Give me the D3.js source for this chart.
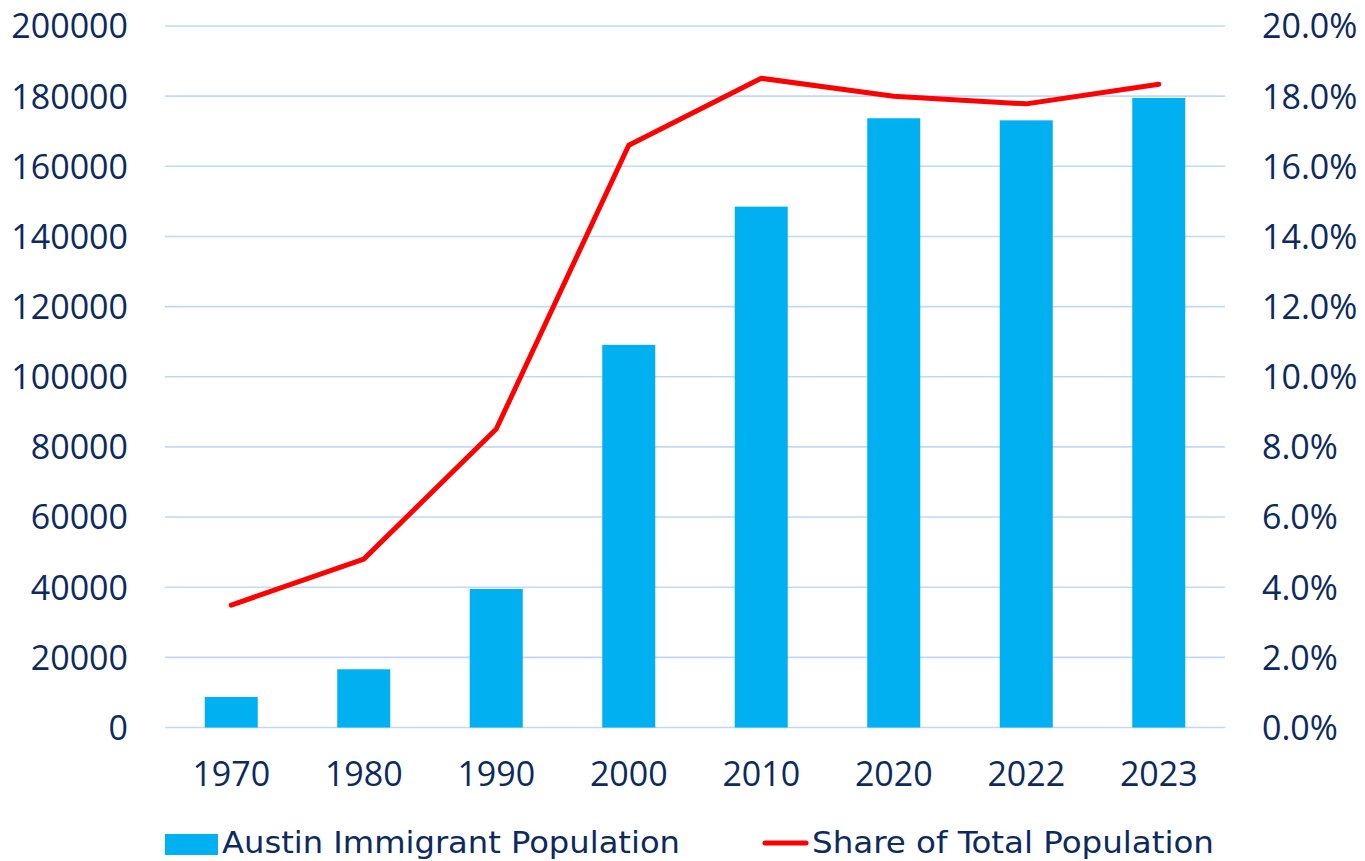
<!DOCTYPE html>
<html><head><meta charset="utf-8">
<script src="https://cdn.jsdelivr.net/npm/d3@7"></script>
<style>html,body{margin:0;padding:0;background:#fff;}</style>
</head><body>
<svg id="chart" width="1365" height="861"></svg>
<script>
const categories = ["1970","1980","1990","2000","2010","2020","2022","2023"];
const immigrantPopulation = [8700, 16600, 39500, 109100, 148500, 173700, 173100, 179500];
const shareOfTotal = [0.0349, 0.048, 0.0851, 0.166, 0.1851, 0.180, 0.1778, 0.1834];
const leftTicks = [0,20000,40000,60000,80000,100000,120000,140000,160000,180000,200000];
const rightTicks = [0,0.02,0.04,0.06,0.08,0.10,0.12,0.14,0.16,0.18,0.20];
const seriesNames = ["Austin Immigrant Population","Share of Total Population"];

const textColor = "#0c2a5e";
const font = "'Open Sans', sans-serif";
const svg = d3.select("#chart");
const m = {left:165, right:1225, top:26, bottom:727.5};

const x = d3.scaleBand().domain(categories).range([m.left, m.right]).paddingInner(0.6).paddingOuter(0.3);
const yL = d3.scaleLinear().domain([0,200000]).range([m.bottom, m.top]);
const yR = d3.scaleLinear().domain([0,0.2]).range([m.bottom, m.top]);

// gridlines
svg.append("g").selectAll("line").data(leftTicks).join("line")
  .attr("x1", m.left).attr("x2", m.right)
  .attr("y1", d=>yL(d)).attr("y2", d=>yL(d))
  .attr("stroke", "#c3d7f7").attr("stroke-width", 1.6);

// left axis
const gL = svg.append("g").attr("transform", `translate(${m.left},0)`)
  .call(d3.axisLeft(yL).tickValues(leftTicks).tickFormat(d3.format("d")).tickSize(0).tickPadding(37));
gL.select(".domain").remove();
gL.selectAll("text").attr("fill", textColor).attr("font-family", font).attr("font-size", 34).attr("dy","0.35em");

// right axis
const gR = svg.append("g").attr("transform", `translate(${m.right},0)`)
  .call(d3.axisRight(yR).tickValues(rightTicks).tickFormat(d3.format(".1%")).tickSize(0).tickPadding(37));
gR.select(".domain").remove();
gR.selectAll("text").attr("fill", textColor).attr("font-family", font).attr("font-size", 34).attr("dy","0.35em");

// x axis
const gX = svg.append("g").attr("transform", `translate(0,${m.bottom})`)
  .call(d3.axisBottom(x).tickSize(0).tickPadding(34));
gX.select(".domain").remove();
gX.selectAll("text").attr("fill", textColor).attr("font-family", font).attr("font-size", 34).attr("dy","0.71em");

// bars
svg.append("g").selectAll("rect").data(categories).join("rect")
  .attr("x", d=>x(d)).attr("width", x.bandwidth())
  .attr("y", (d,i)=>yL(immigrantPopulation[i]))
  .attr("height", (d,i)=>yL(0)-yL(immigrantPopulation[i]))
  .attr("fill", "#00b0f0");

// line
const line = d3.line().x((d,i)=>x(categories[i])+x.bandwidth()/2).y(d=>yR(d));
svg.append("path").datum(shareOfTotal).attr("d", line)
  .attr("fill","none").attr("stroke","#ff0000").attr("stroke-width",5)
  .attr("stroke-linejoin","round").attr("stroke-linecap","round");

// legend
const legFont = "'Liberation Sans Narrow', 'DejaVu Sans Condensed', sans-serif";
const lg = svg.append("g");
lg.append("rect").attr("x",165).attr("y",834).attr("width",53).attr("height",21).attr("fill","#00b0f0");
lg.append("text").attr("x",222).attr("y",853).text(seriesNames[0])
  .attr("fill",textColor).attr("font-family",legFont).attr("font-size",31)
  .attr("textLength",458).attr("lengthAdjust","spacingAndGlyphs");
lg.append("line").attr("x1",765).attr("x2",806).attr("y1",843).attr("y2",843)
  .attr("stroke","#ff0000").attr("stroke-width",5).attr("stroke-linecap","round");
lg.append("text").attr("x",812).attr("y",853).text(seriesNames[1])
  .attr("fill",textColor).attr("font-family",legFont).attr("font-size",31)
  .attr("textLength",402).attr("lengthAdjust","spacingAndGlyphs");
</script>
</body></html>
